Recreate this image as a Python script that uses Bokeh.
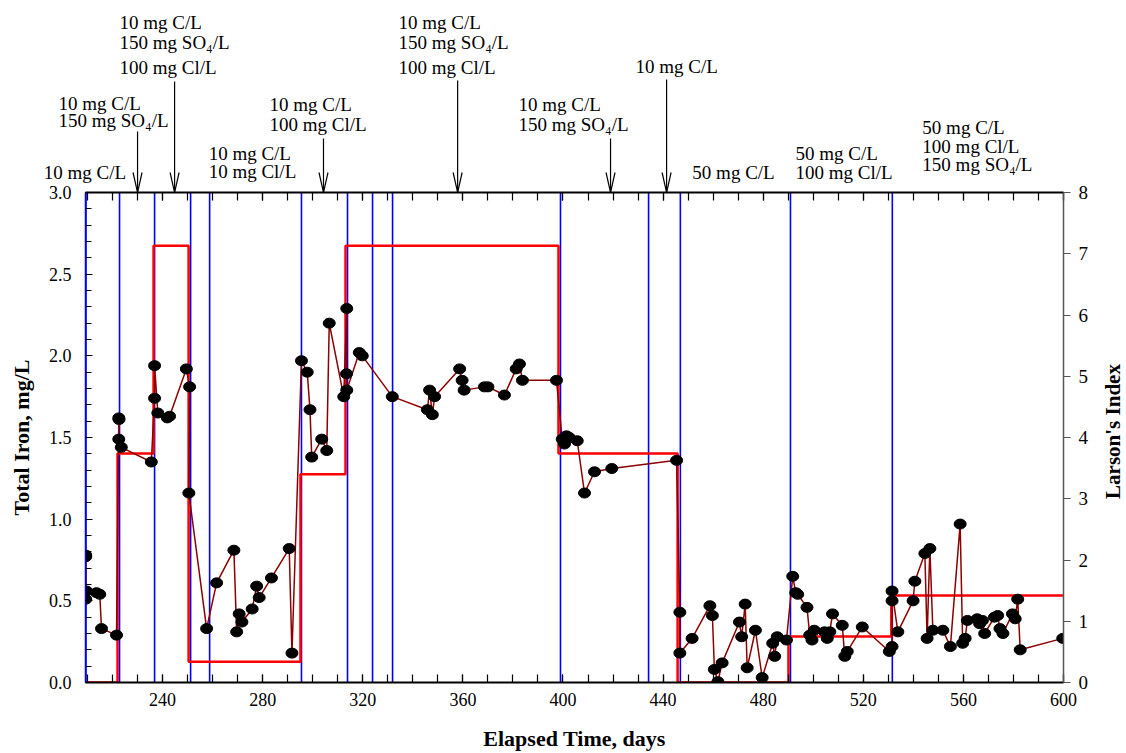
import math
from bokeh.plotting import figure
from bokeh.layouts import column, row
from bokeh.models import (ColumnDataSource, LinearAxis, Range1d, FixedTicker, Span,
                          PrintfTickFormatter)
from bokeh.core.properties import value
from bokeh.embed import file_html
from bokeh.resources import INLINE

FONT = "Liberation Serif"

# ---------------- data ----------------
days = [209.3, 209.3, 209.3, 209.6, 213.6, 214.9, 215.6, 221.6, 222.5, 222.6,
        222.5, 223.5, 235.5, 236.8, 236.8, 238.1, 241.9, 242.8, 249.5, 250.8,
        250.5, 257.6, 261.6, 268.5, 269.6, 270.6, 271.7, 275.8, 277.6, 278.6,
        283.5, 290.6, 291.7, 295.5, 297.8, 298.9, 299.6, 303.6, 305.6, 306.6,
        312.4, 313.6, 313.5, 313.6, 318.6, 319.8, 331.8, 345.8, 346.7, 347.8,
        348.7, 358.7, 359.7, 360.5, 368.6, 370.0, 376.6, 381.3, 382.6, 383.8,
        397.4, 399.7, 400.6, 401.4, 402.5, 405.7, 408.6, 412.6, 419.5, 445.4,
        446.7, 446.7, 451.6, 458.7, 459.7, 460.5, 461.9, 463.6, 470.5, 471.4,
        472.8, 473.6, 476.9, 479.6, 483.8, 484.6, 485.6, 489.3, 491.8, 493.0,
        493.8, 497.5, 498.6, 499.5, 500.4, 504.5, 505.6, 506.6, 507.7, 511.6,
        512.6, 513.6, 519.6, 530.4, 531.5, 531.5, 531.5, 533.8, 539.9, 540.6,
        544.6, 545.5, 546.6, 547.8, 551.8, 554.8, 558.7, 559.7, 560.7, 561.6,
        565.5, 566.5, 567.6, 568.5, 572.4, 573.7, 574.6, 575.8, 579.6, 580.7,
        581.7, 582.7, 599.7]
iron = [0.78, 0.77, 0.51, 0.56, 0.55, 0.54, 0.33, 0.29, 1.62, 1.61,
        1.49, 1.44, 1.35, 1.74, 1.94, 1.65, 1.62, 1.63, 1.92, 1.81,
        1.16, 0.33, 0.61, 0.81, 0.31, 0.42, 0.37, 0.45, 0.59, 0.52,
        0.64, 0.82, 0.18, 1.97, 1.90, 1.67, 1.38, 1.49, 1.42, 2.20,
        1.75, 2.29, 1.89, 1.79, 2.02, 2.00, 1.75, 1.67, 1.79, 1.64,
        1.75, 1.92, 1.85, 1.79, 1.81, 1.81, 1.76, 1.92, 1.95, 1.85,
        1.85, 1.49, 1.46, 1.51, 1.50, 1.48, 1.16, 1.29, 1.31, 1.36,
        0.43, 0.18, 0.27, 0.47, 0.41, 0.08, 0.005, 0.12, 0.37, 0.28,
        0.48, 0.09, 0.32, 0.03, 0.24, 0.16, 0.28, 0.26, 0.65, 0.55,
        0.54, 0.46, 0.29, 0.26, 0.32, 0.31, 0.27, 0.31, 0.42, 0.35,
        0.16, 0.19, 0.34, 0.19, 0.22, 0.50, 0.56, 0.31, 0.50, 0.62,
        0.79, 0.27, 0.82, 0.32, 0.32, 0.22, 0.97, 0.24, 0.27, 0.38,
        0.39, 0.36, 0.38, 0.30, 0.40, 0.41, 0.33, 0.30, 0.42, 0.39,
        0.51, 0.20, 0.27]

# Larson's index (step series, right axis)
larson_x = [209.2, 222.0, 236.4, 250.4, 295.1, 313.1, 398.2, 445.8, 490.1, 531.2, 600.0]
larson_y = [0.0, 3.74, 7.13, 0.34, 3.40, 7.13, 3.74, 0.0, 0.75, 1.42, 1.42]

# condition-change markers (blue verticals)
change_days = [209.4, 222.8, 236.8, 251.2, 258.8, 295.5, 313.9, 323.9, 331.9,
               399.0, 434.2, 446.9, 490.9, 531.6]

x_ticks = [240, 280, 320, 360, 400, 440, 480, 520, 560, 600]
x_minor = list(range(210, 601, 10))
y_ticks = [0.0, 0.5, 1.0, 1.5, 2.0, 2.5, 3.0]
y_minor = [i / 10 for i in range(31)]
larson_ticks = [0, 1, 2, 3, 4, 5, 6, 7, 8]

# annotation texts: (left x in days, lines, baselines in iron-axis units above 3.0)
annotations = [
    (192.5, ["10 mg C/L"], [3.122]),
    (198.4, ["10 mg C/L", "150 mg SO\u2084/L"], [3.545, 3.441]),
    (222.8, ["10 mg C/L", "150 mg SO\u2084/L", "100 mg Cl/L"], [4.041, 3.918, 3.765]),
    (258.4, ["10 mg C/L", "10 mg Cl/L"], [3.239, 3.129]),
    (282.7, ["10 mg C/L", "100 mg Cl/L"], [3.539, 3.416]),
    (334.3, ["10 mg C/L", "150 mg SO\u2084/L", "100 mg Cl/L"], [4.041, 3.918, 3.765]),
    (382.2, ["10 mg C/L", "150 mg SO\u2084/L"], [3.539, 3.416]),
    (429.0, ["10 mg C/L"], [3.771]),
    (451.7, ["50 mg C/L"], [3.122]),
    (492.9, ["50 mg C/L", "100 mg Cl/L"], [3.239, 3.122]),
    (543.6, ["50 mg C/L", "100 mg Cl/L", "150 mg SO\u2084/L"], [3.398, 3.282, 3.171]),
]
arrow_days = [230.0, 244.8, 304.3, 357.9, 419.0, 441.4]
arrow_tops = [3.374, 3.680, 3.331, 3.686, 3.331, 3.692]

right_title = "Larson's Index"

# ---------------- layout constants ----------------
X0, X1 = 209.2, 600.0
Y0, Y1 = 0.0, 3.0
W_TOTAL = 1126
H_TOTAL = 753
LEFT = 85
FRAME_W = 978
RIGHT = 32            # right tick labels only; the title sits in its own strip
W = LEFT + FRAME_W + RIGHT
FRAME_H = 490
TOP_H = 192           # annotation strip height (ends exactly at the plot top)
OVERLAP = 14          # main figure's top border, overlapped with the strip
BOTTOM = 71
px_per_day = FRAME_W / (X1 - X0)
px_per_unit = FRAME_H / (Y1 - Y0)


def bare(fig):
    fig.grid.visible = False
    fig.outline_line_color = None
    if "frame_align" in fig.properties():
        fig.frame_align = False


# ---------------- top annotation strip ----------------
top = figure(width=W, height=TOP_H,
             x_range=Range1d(X0 - LEFT / px_per_day, X0 + (W - LEFT) / px_per_day),
             y_range=Range1d(Y1, Y1 + TOP_H / px_per_unit),
             x_axis_location=None, y_axis_location=None,
             output_backend="svg", toolbar_location=None,
             min_border=0, min_border_left=0, min_border_right=0,
             min_border_top=0, min_border_bottom=0,
             margin=(0, 0, -OVERLAP, 0))
bare(top)

tx, ty, tt = [], [], []
for x0, lines, ys in annotations:
    for t, yb in zip(lines, ys):
        tx.append(x0)
        ty.append(yb)
        tt.append(t)
top.text(x=tx, y=ty, text=tt, text_font=value(FONT), text_font_size="19px",
         text_baseline="alphabetic", text_align="left", text_color="black")

head_dx = 4.5 / px_per_day
head_dy = 20 / px_per_unit
sx0, sy0, sx1, sy1 = [], [], [], []
for d, t in zip(arrow_days, arrow_tops):
    sx0 += [d, d - head_dx, d + head_dx]
    sy0 += [t, Y1 + head_dy, Y1 + head_dy]
    sx1 += [d, d, d]
    sy1 += [Y1, Y1, Y1]
top.segment(x0=sx0, y0=sy0, x1=sx1, y1=sy1, line_color="black", line_width=1.2)

# ---------------- main chart ----------------
p = figure(width=W, height=OVERLAP + FRAME_H + BOTTOM,
           x_range=Range1d(X0, X1), y_range=Range1d(Y0, Y1),
           output_backend="svg", toolbar_location=None,
           min_border_left=LEFT, min_border_top=OVERLAP, min_border_bottom=BOTTOM,
           min_border_right=RIGHT)
bare(p)
p.extra_y_ranges = {"larson": Range1d(0, 8)}
p.border_fill_color = None
p.background_fill_color = "white"

# bottom axis
xa = p.xaxis[0]
xa.ticker = FixedTicker(ticks=x_ticks, minor_ticks=x_minor)
xa.major_tick_in = 8
xa.major_tick_out = 0
xa.minor_tick_in = 8
xa.minor_tick_out = 0
xa.axis_line_width = 2
xa.major_tick_line_width = 1.2
xa.minor_tick_line_width = 1.2
xa.major_label_text_font = FONT
xa.major_label_text_font_size = "18px"
xa.major_label_text_color = "black"
xa.major_label_standoff = 10
xa.axis_label = "Elapsed Time, days"
xa.axis_label_text_font = FONT
xa.axis_label_text_font_style = "bold"
xa.axis_label_text_font_size = "22px"
xa.axis_label_text_color = "black"
xa.axis_label_standoff = 17

# left axis
ya = p.yaxis[0]
ya.ticker = FixedTicker(ticks=y_ticks, minor_ticks=y_minor)
ya.formatter = PrintfTickFormatter(format="%.1f")
ya.major_tick_in = 7
ya.major_tick_out = 0
ya.minor_tick_in = 6
ya.minor_tick_out = 0
ya.axis_line_color = "blue"
ya.axis_line_width = 1.5
ya.major_label_text_font = FONT
ya.major_label_text_font_size = "18px"
ya.major_label_text_color = "black"
ya.major_label_standoff = 14
ya.axis_label = "Total Iron, mg/L"
ya.axis_label_text_font = FONT
ya.axis_label_text_font_style = "bold"
ya.axis_label_text_font_size = "22px"
ya.axis_label_text_color = "black"
ya.axis_label_standoff = 12

# top axis (ticks only)
ta = LinearAxis(ticker=FixedTicker(ticks=x_ticks, minor_ticks=x_minor))
ta.major_tick_in = 8
ta.major_tick_out = 0
ta.minor_tick_in = 8
ta.minor_tick_out = 0
ta.axis_line_width = 2
ta.major_tick_line_width = 1.2
ta.minor_tick_line_width = 1.2
ta.major_label_text_color = None
ta.major_label_text_font_size = "0px"
ta.major_label_standoff = 0
p.add_layout(ta, "above")

# right axis (Larson's index) - ticks and numbers
ra = LinearAxis(y_range_name="larson", ticker=FixedTicker(ticks=larson_ticks))
ra.major_tick_in = 0
ra.major_tick_out = 7
ra.minor_tick_line_color = None
ra.axis_line_color = "#555555"
ra.axis_line_width = 1.5
ra.major_tick_line_color = "#555555"
ra.major_label_text_font = FONT
ra.major_label_text_font_size = "19px"
ra.major_label_text_color = "black"
ra.major_label_standoff = 8
p.add_layout(ra, "right")

# blue change lines
for d in change_days:
    p.add_layout(Span(location=d, dimension="height", line_color="blue",
                      line_width=1.6, level="underlay"))

# Larson's index step
p.step(larson_x, larson_y, mode="after", y_range_name="larson",
       line_color="red", line_width=2.5)

# iron series
src = ColumnDataSource(dict(x=days, y=iron))
p.line("x", "y", source=src, line_color="#8B0000", line_width=1.5)
p.ellipse("x", "y", source=src, width=12, height=10, width_units="screen",
          height_units="screen", fill_color="black", line_color="black")

# ---------------- right title strip (reads bottom-to-top, like the left title) ----------------
SIDE_W = W_TOTAL - W
side = figure(width=SIDE_W, height=H_TOTAL,
              x_range=Range1d(0, SIDE_W), y_range=Range1d(H_TOTAL, 0),
              x_axis_location=None, y_axis_location=None,
              output_backend="svg", toolbar_location=None,
              min_border=0, min_border_left=0, min_border_right=0,
              min_border_top=0, min_border_bottom=0)
bare(side)
side.text(x=[SIDE_W / 2 + 2], y=[TOP_H + FRAME_H / 2 - 6], text=[right_title],
          angle=math.pi / 2, text_font=value(FONT), text_font_size="21px",
          text_font_style="bold", text_align="center", text_baseline="middle",
          text_color="black")

layout = row(column(top, p, spacing=0), side, spacing=0)
open("out.html", "w").write(file_html(layout, INLINE))
